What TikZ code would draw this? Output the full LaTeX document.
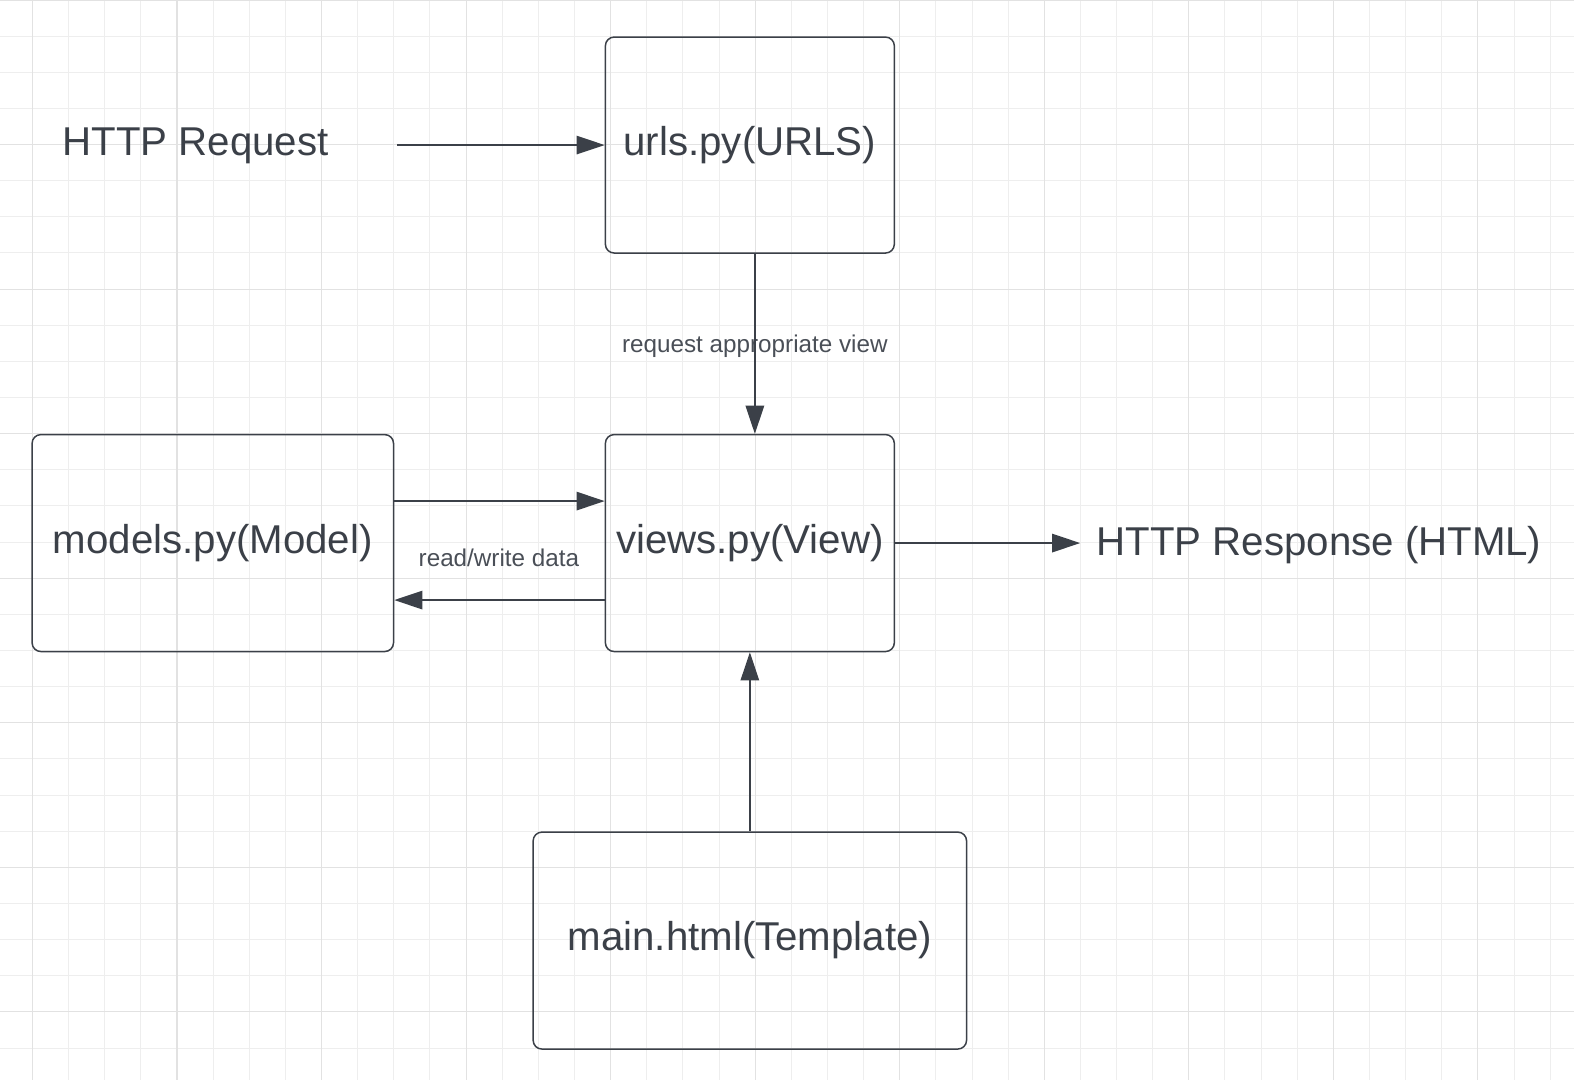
\documentclass[tikz,border=0pt]{standalone}
\usepackage{fontspec}
\setmainfont{Liberation Sans}
\usetikzlibrary{arrows.meta}

\definecolor{ink}{HTML}{3B4048}
\definecolor{labelink}{HTML}{4A4F57}
\definecolor{gridminor}{HTML}{EEEEEE}
\definecolor{gridmajor}{HTML}{E2E2E2}

\tikzset{
  box/.style={draw=ink, line width=0.85pt, rounded corners=5pt, text=ink,
    font=\fontsize{22.9}{27}\selectfont},
  plain/.style={text=ink, inner sep=0pt, font=\fontsize{22.9}{27}\selectfont},
  small/.style={text=labelink, inner sep=0pt, font=\fontsize{13.8}{16}\selectfont},
  flow/.style={draw=ink, line width=0.9pt, -{Triangle[length=16pt, width=10.5pt]}},
}

\begin{document}
\begin{tikzpicture}[x=0.020077cm, y=-0.020077cm]
  \useasboundingbox (0,0) rectangle (1568,1076);
  \fill[white] (0,0) rectangle (1568,1076);
  % grid
  \foreach \i in {0,...,44}
    \draw[gridminor, line width=0.55pt] ({-3.7+36*\i},0) -- ++(0,1076);
  \foreach \i in {0,...,30}
    \draw[gridminor, line width=0.55pt] (0,{36*\i}) -- ++(1568,0);
  \foreach \i in {0,...,10}
    \draw[gridmajor, line width=0.6pt] ({32.3+144*\i},0) -- ++(0,1076);
  \foreach \i in {0,...,7}
    \draw[gridmajor, line width=0.6pt] (0,{144*\i}) -- ++(1568,0);

  \node[box, minimum width=5.78cm, minimum height=4.32cm] (urls) at (747,144.5) {urls.py(URLS)};
  \node[box, minimum width=5.78cm, minimum height=4.34cm] (views) at (747,541) {views.py(View)};
  \node[box, minimum width=7.23cm, minimum height=4.34cm] (models) at (212,541) {models.py(Model)};
  \node[box, minimum width=8.67cm, minimum height=4.34cm] (tmpl) at (747,937) {main.html(Template)};
  \node[plain, anchor=base west] (req) at (62,155) {HTTP Request};
  \node[plain, anchor=base west] (resp) at (1092,553) {HTTP Response (HTML)};
  \node[small] (viewlbl) at (752,345) {request appropriate view};
  \node[small] (datalbl) at (497,556) {read/write data};

  \draw[flow] ([xshift=1.36cm]req.east |- urls.west) -- (urls.west);
  \draw[flow] ([xshift=0.1cm]urls.south) -- ([xshift=0.1cm]views.north);
  \draw[flow] ([yshift=0.84cm]models.east) -- ([yshift=0.84cm]views.west);
  \draw[flow] ([yshift=-1.14cm]views.west) -- ([yshift=-1.14cm]models.east);
  \draw[flow] (views.east) -- ([xshift=-0.32cm]resp.west |- views.east);
  \draw[flow] (tmpl.north) -- (views.south);
\end{tikzpicture}
\end{document}
